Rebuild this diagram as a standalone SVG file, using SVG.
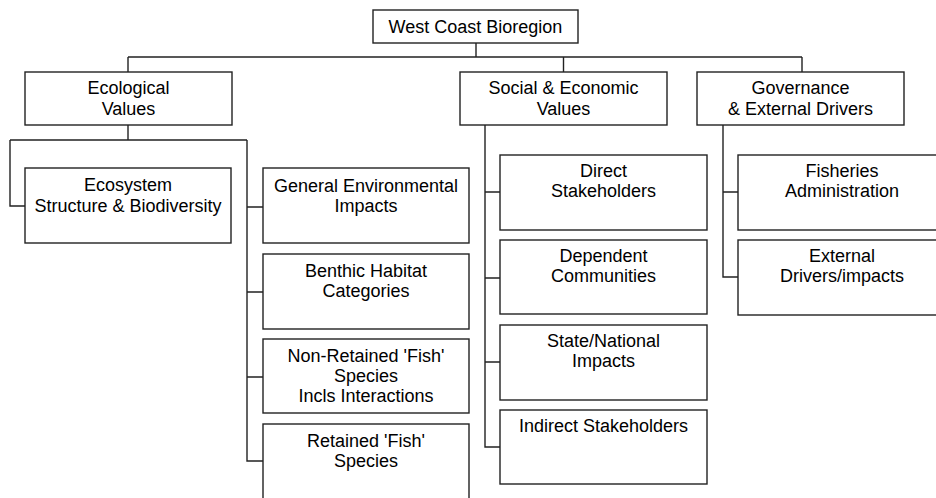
<svg xmlns="http://www.w3.org/2000/svg" width="936" height="498" viewBox="0 0 936 498">
<style>
.b{fill:#fff;stroke:#222;stroke-width:1.4}
.c{fill:none;stroke:#222;stroke-width:1.4}
text{font-family:"Liberation Sans",Arial,sans-serif;font-size:18px;fill:#000;text-anchor:middle}
</style>
<rect width="936" height="498" fill="#fff"/>
<g id="connectors">
<path class="c" d="M476 43V57M128 57H802M128 57V72M563.5 57V72M802 57V72"/>
<path class="c" d="M128 125V140M10 140H247M10 140V206H25M247 140V461H263M247 207H263M247 292H263M247 377H263"/>
<path class="c" d="M485 125V447H500M485 192H500M485 278H500M485 362H500"/>
<path class="c" d="M723 125V277H738M723 192H738"/>
</g>
<g id="root"><rect class="b" x="373" y="10" width="205" height="33"/><text x="475.5" y="33">West Coast Bioregion</text></g>
<g id="ecological"><rect class="b" x="25" y="72" width="207" height="53"/><text x="128.5" y="94">Ecological</text><text x="128.5" y="114.5">Values</text></g>
<g id="social"><rect class="b" x="460" y="72" width="207" height="53"/><text x="563.5" y="94">Social &amp; Economic</text><text x="563.5" y="114.5">Values</text></g>
<g id="governance"><rect class="b" x="697" y="72" width="207" height="53"/><text x="800.5" y="93.5">Governance</text><text x="800.5" y="114.5">&amp; External Drivers</text></g>
<g id="ecosystem"><rect class="b" x="25" y="168" width="206" height="75"/><text x="128" y="191">Ecosystem</text><text x="128" y="211.5">Structure &amp; Biodiversity</text></g>
<g id="general"><rect class="b" x="263" y="168" width="206" height="75"/><text x="366" y="191.5">General Environmental</text><text x="366" y="211.5">Impacts</text></g>
<g id="benthic"><rect class="b" x="263" y="254" width="206" height="75"/><text x="366" y="276.5">Benthic Habitat</text><text x="366" y="296.5">Categories</text></g>
<g id="nonretained"><rect class="b" x="263" y="339" width="206" height="74"/><text x="366" y="361.5">Non-Retained 'Fish'</text><text x="366" y="381.5">Species</text><text x="366" y="401.5">Incls Interactions</text></g>
<g id="retained"><rect class="b" x="263" y="424" width="206" height="90"/><text x="366" y="446.5">Retained 'Fish'</text><text x="366" y="466.5">Species</text></g>
<g id="direct"><rect class="b" x="500" y="155" width="207" height="75"/><text x="603.5" y="176.5">Direct</text><text x="603.5" y="196.5">Stakeholders</text></g>
<g id="dependent"><rect class="b" x="500" y="240" width="207" height="74"/><text x="603.5" y="261.5">Dependent</text><text x="603.5" y="281.5">Communities</text></g>
<g id="state"><rect class="b" x="500" y="325" width="207" height="75"/><text x="603.5" y="346.5">State/National</text><text x="603.5" y="366.5">Impacts</text></g>
<g id="indirect"><rect class="b" x="500" y="410" width="207" height="74"/><text x="603.5" y="431.5">Indirect Stakeholders</text></g>
<g id="fisheries"><rect class="b" x="738" y="155" width="208" height="75"/><text x="842" y="176.5">Fisheries</text><text x="842" y="196.5">Administration</text></g>
<g id="external"><rect class="b" x="738" y="240" width="208" height="75"/><text x="842" y="261.5">External</text><text x="842" y="281.5">Drivers/impacts</text></g>
</svg>
